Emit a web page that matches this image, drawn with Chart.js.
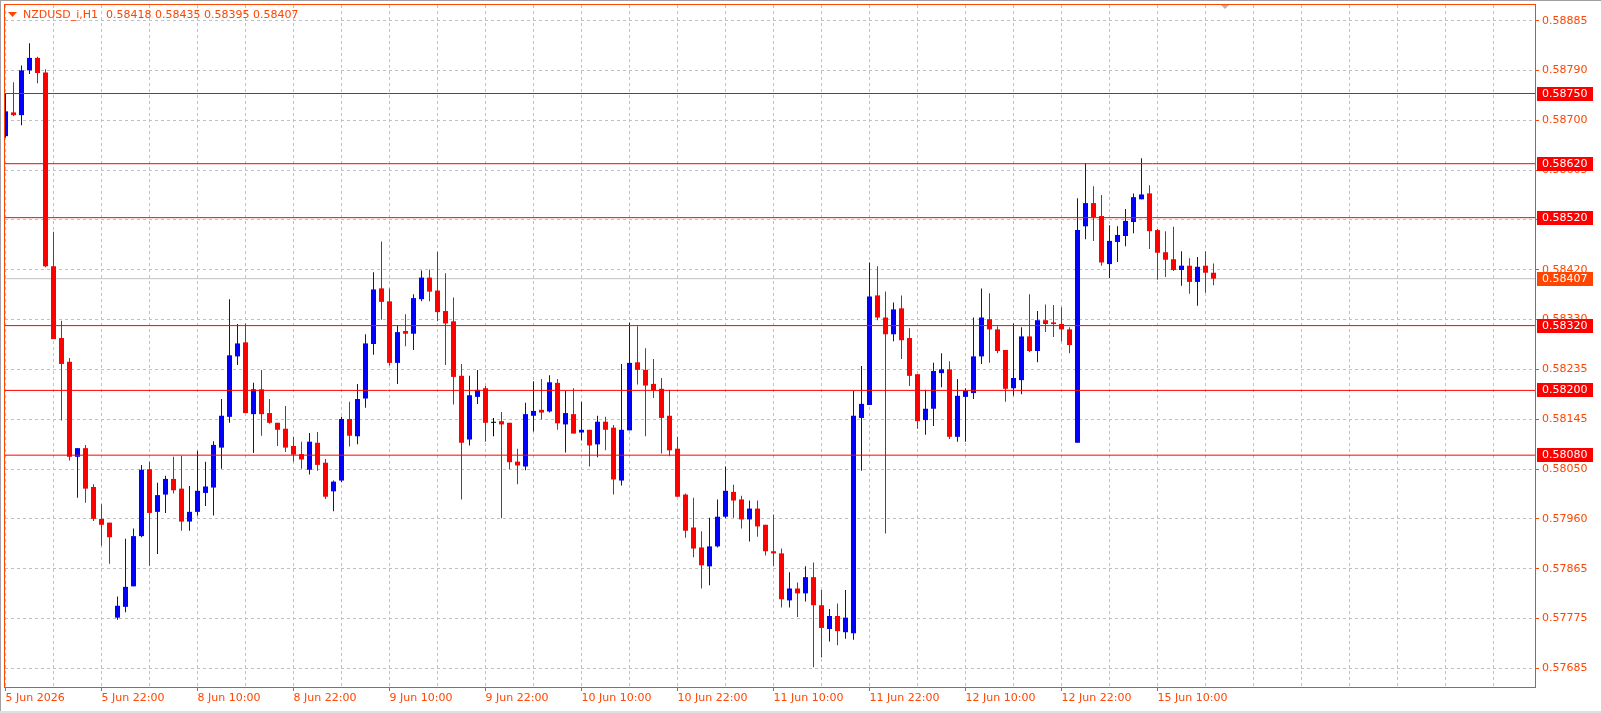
<!DOCTYPE html>
<html>
<head>
<meta charset="utf-8">
<title>NZDUSD_i,H1</title>
<script src="https://cdn.jsdelivr.net/npm/chart.js@4.4.1/dist/chart.umd.min.js"></script>
<style>
  html, body { margin: 0; padding: 0; background: #ffffff; overflow: hidden; }
  canvas { display: block; }
</style>
</head>
<body>
<canvas id="chart" width="1601" height="713"></canvas>
<script>
// NZDUSD hourly candles, 5 Jun 10:00 .. 15 Jun 17:00 (152 bars, weekends skipped)
const symbolTitle = 'NZDUSD_i,H1';
const titleValues = '0.58418 0.58435 0.58395 0.58407';

const opens = [
  0.58671, 0.58715, 0.58710, 0.58793, 0.58816, 0.58789, 0.58430, 0.58297, 0.58253, 0.58077,
  0.58093, 0.58021, 0.57962, 0.57955, 0.57779, 0.57799, 0.57837, 0.57930, 0.58054, 0.57975,
  0.58007, 0.58036, 0.58018, 0.57957, 0.57975, 0.58010, 0.58020, 0.58094, 0.58151, 0.58263,
  0.58289, 0.58156, 0.58202, 0.58158, 0.58140, 0.58129, 0.58097, 0.58082, 0.58053, 0.58103,
  0.58066, 0.58013, 0.58033, 0.58147, 0.58115, 0.58185, 0.58286, 0.58389, 0.58365, 0.58251,
  0.58310, 0.58305, 0.58369, 0.58409, 0.58385, 0.58347, 0.58328, 0.58227, 0.58109, 0.58188,
  0.58204, 0.58140, 0.58143, 0.58140, 0.58068, 0.58059, 0.58153, 0.58164, 0.58161, 0.58214,
  0.58137, 0.58156, 0.58122, 0.58127, 0.58100, 0.58142, 0.58131, 0.58033, 0.58126, 0.58252,
  0.58238, 0.58212, 0.58203, 0.58153, 0.58092, 0.58007, 0.57946, 0.57909, 0.57874, 0.57911,
  0.57966, 0.58012, 0.57998, 0.57961, 0.57981, 0.57951, 0.57902, 0.57898, 0.57811, 0.57833,
  0.57824, 0.57854, 0.57802, 0.57758, 0.57782, 0.57752, 0.57750, 0.58149, 0.58173, 0.58376,
  0.58335, 0.58304, 0.58352, 0.58297, 0.58230, 0.58145, 0.58166, 0.58232, 0.58239, 0.58114,
  0.58188, 0.58195, 0.58263, 0.58332, 0.58313, 0.58275, 0.58204, 0.58219, 0.58300, 0.58273,
  0.58330, 0.58326, 0.58323, 0.58313, 0.58103, 0.58504, 0.58547, 0.58523, 0.58434, 0.58475,
  0.58486, 0.58512, 0.58554, 0.58565, 0.58497, 0.58456, 0.58443, 0.58423, 0.58431, 0.58401,
  0.58431, 0.58418
];
const highs = [
  0.58750, 0.58771, 0.58802, 0.58843, 0.58818, 0.58795, 0.58494, 0.58329, 0.58260, 0.58093,
  0.58099, 0.58026, 0.57989, 0.57955, 0.57818, 0.57925, 0.57944, 0.58062, 0.58068, 0.58029,
  0.58042, 0.58077, 0.58079, 0.58023, 0.58088, 0.58068, 0.58106, 0.58184, 0.58369, 0.58323,
  0.58324, 0.58214, 0.58238, 0.58184, 0.58140, 0.58171, 0.58114, 0.58105, 0.58121, 0.58123,
  0.58073, 0.58033, 0.58151, 0.58179, 0.58212, 0.58304, 0.58419, 0.58476, 0.58389, 0.58321,
  0.58341, 0.58378, 0.58422, 0.58424, 0.58457, 0.58417, 0.58372, 0.58249, 0.58227, 0.58238,
  0.58208, 0.58149, 0.58160, 0.58140, 0.58092, 0.58177, 0.58217, 0.58221, 0.58228, 0.58221,
  0.58199, 0.58204, 0.58179, 0.58127, 0.58153, 0.58151, 0.58136, 0.58249, 0.58326, 0.58319,
  0.58278, 0.58258, 0.58223, 0.58201, 0.58114, 0.58009, 0.58001, 0.57939, 0.57964, 0.57998,
  0.58059, 0.58025, 0.58005, 0.57996, 0.57996, 0.57951, 0.57970, 0.57907, 0.57863, 0.57844,
  0.57874, 0.57881, 0.57830, 0.57795, 0.57805, 0.57830, 0.58199, 0.58245, 0.58437, 0.58430,
  0.58383, 0.58363, 0.58376, 0.58315, 0.58230, 0.58201, 0.58251, 0.58269, 0.58254, 0.58221,
  0.58204, 0.58335, 0.58389, 0.58380, 0.58319, 0.58275, 0.58324, 0.58317, 0.58378, 0.58347,
  0.58359, 0.58358, 0.58354, 0.58317, 0.58556, 0.58621, 0.58578, 0.58562, 0.58506, 0.58504,
  0.58536, 0.58565, 0.58630, 0.58580, 0.58499, 0.58495, 0.58503, 0.58458, 0.58445, 0.58447,
  0.58458, 0.58435
];
const lows = [
  0.58668, 0.58708, 0.58691, 0.58786, 0.58769, 0.58428, 0.58295, 0.58144, 0.58070, 0.58001,
  0.57992, 0.57958, 0.57912, 0.57879, 0.57775, 0.57789, 0.57837, 0.57928, 0.57875, 0.57897,
  0.57973, 0.58009, 0.57940, 0.57940, 0.57968, 0.57986, 0.57968, 0.58055, 0.58140, 0.58247,
  0.58158, 0.58084, 0.58116, 0.58138, 0.58097, 0.58086, 0.58068, 0.58055, 0.58044, 0.58051,
  0.57999, 0.57976, 0.58030, 0.58096, 0.58100, 0.58168, 0.58266, 0.58331, 0.58246, 0.58212,
  0.58282, 0.58275, 0.58365, 0.58365, 0.58328, 0.58247, 0.58174, 0.57998, 0.58098, 0.58175,
  0.58105, 0.58115, 0.57963, 0.58054, 0.58026, 0.58052, 0.58124, 0.58146, 0.58159, 0.58127,
  0.58085, 0.58120, 0.58107, 0.58059, 0.58076, 0.58089, 0.58007, 0.58024, 0.58126, 0.58211,
  0.58115, 0.58186, 0.58083, 0.58078, 0.58003, 0.57927, 0.57891, 0.57833, 0.57839, 0.57909,
  0.57963, 0.57964, 0.57944, 0.57920, 0.57929, 0.57894, 0.57874, 0.57798, 0.57798, 0.57780,
  0.57809, 0.57687, 0.57705, 0.57735, 0.57728, 0.57740, 0.57738, 0.58051, 0.58173, 0.58330,
  0.57935, 0.58291, 0.58258, 0.58208, 0.58129, 0.58118, 0.58134, 0.58206, 0.58110, 0.58105,
  0.58105, 0.58184, 0.58249, 0.58251, 0.58269, 0.58179, 0.58190, 0.58193, 0.58271, 0.58252,
  0.58308, 0.58299, 0.58291, 0.58269, 0.58103, 0.58480, 0.58477, 0.58431, 0.58408, 0.58438,
  0.58467, 0.58491, 0.58554, 0.58462, 0.58405, 0.58410, 0.58421, 0.58394, 0.58379, 0.58357,
  0.58381, 0.58395
];
const closes = [
  0.58717, 0.58710, 0.58793, 0.58816, 0.58788, 0.58430, 0.58295, 0.58249, 0.58077, 0.58093,
  0.58018, 0.57962, 0.57951, 0.57928, 0.57801, 0.57836, 0.57930, 0.58053, 0.57973, 0.58006,
  0.58036, 0.58015, 0.57957, 0.57975, 0.58014, 0.58022, 0.58099, 0.58153, 0.58265, 0.58287,
  0.58158, 0.58202, 0.58156, 0.58140, 0.58127, 0.58094, 0.58081, 0.58072, 0.58105, 0.58062,
  0.58003, 0.58031, 0.58147, 0.58116, 0.58184, 0.58287, 0.58387, 0.58364, 0.58251, 0.58308,
  0.58305, 0.58371, 0.58409, 0.58383, 0.58345, 0.58324, 0.58225, 0.58103, 0.58191, 0.58201,
  0.58140, 0.58140, 0.58137, 0.58067, 0.58061, 0.58156, 0.58162, 0.58159, 0.58215, 0.58139,
  0.58158, 0.58120, 0.58127, 0.58098, 0.58142, 0.58127, 0.58035, 0.58127, 0.58251, 0.58238,
  0.58209, 0.58200, 0.58149, 0.58089, 0.58003, 0.57940, 0.57907, 0.57876, 0.57911, 0.57966,
  0.58014, 0.57996, 0.57961, 0.57981, 0.57948, 0.57902, 0.57898, 0.57813, 0.57833, 0.57824,
  0.57854, 0.57802, 0.57760, 0.57782, 0.57754, 0.57779, 0.58153, 0.58175, 0.58374, 0.58335,
  0.58304, 0.58350, 0.58293, 0.58227, 0.58143, 0.58166, 0.58236, 0.58239, 0.58114, 0.58190,
  0.58199, 0.58263, 0.58335, 0.58313, 0.58273, 0.58203, 0.58223, 0.58300, 0.58273, 0.58330,
  0.58323, 0.58323, 0.58313, 0.58284, 0.58497, 0.58547, 0.58521, 0.58437, 0.58477, 0.58488,
  0.58514, 0.58558, 0.58563, 0.58495, 0.58455, 0.58442, 0.58423, 0.58431, 0.58401, 0.58429,
  0.58418, 0.58407
];

// time axis: a label every 12 bars, grid every 6 bars
const timeLabels = ['5 Jun 2026', '5 Jun 22:00', '8 Jun 10:00', '8 Jun 22:00', '9 Jun 10:00',
  '9 Jun 22:00', '10 Jun 10:00', '10 Jun 22:00', '11 Jun 10:00', '11 Jun 22:00',
  '12 Jun 10:00', '12 Jun 22:00', '15 Jun 10:00'];
const labelStep = 12;
const gridStep = 6;

// price axis grid levels and the text MT4 prints at them
const priceGrid = [0.58885, 0.587927, 0.587004, 0.586081, 0.585158, 0.584235, 0.583312,
  0.582388, 0.581465, 0.580542, 0.579619, 0.578696, 0.577773, 0.57685];
const priceLabels = ['0.58885', '0.58790', '0.58700', '0.58605', '0.58515', '0.58420', '0.58330',
  '0.58235', '0.58145', '0.58050', '0.57960', '0.57865', '0.57775', '0.57685'];

// horizontal levels drawn on the chart + current bid
const levelPrices = [0.58750, 0.58620, 0.58520, 0.58320, 0.58200, 0.58080];
const bidPrice = 0.58407;

// visible window
const xMin = -0.0625, xMax = 191.1875;
const yMin = 0.576505, yMax = 0.58914;

const FG = '#ff4500';
const FONT = "'DejaVu Sans', sans-serif";

function candleColor(i) {
  if (closes[i] > opens[i]) return '#0000ff';
  if (closes[i] < opens[i]) return '#ff0000';
  return '#000000';
}

function fmt(p) { return p.toFixed(5); }

// frame, title, level price boxes
const chartDecor = {
  id: 'chartDecor',
  afterDraw(chart) {
    const ctx = chart.ctx;
    const a = chart.chartArea;
    const ys = chart.scales.y;
    ctx.save();

    // window edges
    ctx.fillStyle = '#a0a0a0';
    ctx.fillRect(0, 0, 1, chart.height);
    ctx.fillRect(0, 0, chart.width, 1);
    ctx.fillStyle = '#e0e0e0';
    ctx.fillRect(0, chart.height - 2, chart.width, 2);

    // plot frame
    ctx.strokeStyle = FG;
    ctx.lineWidth = 1;
    ctx.strokeRect(a.left - 0.5, a.top - 0.5, a.right - a.left + 1, a.bottom - a.top + 1);

    // chart shift marker
    ctx.fillStyle = '#b4b4b4';
    ctx.beginPath();
    ctx.moveTo(1221, 5); ctx.lineTo(1229, 5); ctx.lineTo(1225, 9);
    ctx.closePath(); ctx.fill();

    // title
    ctx.fillStyle = FG;
    ctx.beginPath();
    ctx.moveTo(8, 12); ctx.lineTo(17, 12); ctx.lineTo(12.5, 17);
    ctx.closePath(); ctx.fill();
    ctx.font = '11px ' + FONT;
    ctx.textBaseline = 'middle';
    ctx.textAlign = 'left';
    ctx.fillText(symbolTitle, 23, 15);
    ctx.fillText(titleValues, 106, 15);

    // price boxes on the right axis
    const boxes = levelPrices.map(p => ({ p, c: '#ff0000' }));
    boxes.push({ p: bidPrice, c: '#ff4500' });
    boxes.forEach(b => {
      const py = Math.round(ys.getPixelForValue(b.p));
      ctx.fillStyle = b.c;
      ctx.fillRect(a.right + 2, py - 7, 56, 14);
      ctx.fillStyle = '#ffffff';
      ctx.fillText(fmt(b.p), a.right + 7, py + 0.5);
    });
    ctx.restore();
  }
};

const levelSets = levelPrices.map(p => ({
  type: 'line',
  data: [{ x: xMin, y: p }, { x: xMax, y: p }],
  borderColor: '#ff0000',
  borderWidth: 1,
  pointRadius: 0,
  fill: false,
  clip: 0,
  order: 0
}));

const ctx = document.getElementById('chart').getContext('2d');
new Chart(ctx, {
  type: 'bar',
  data: {
    datasets: [
      ...levelSets,
      {
        // candle bodies
        type: 'bar',
        data: opens.map((o, i) => ({ x: i, y: [o, closes[i]] })),
        backgroundColor: c => candleColor(c.dataIndex),
        borderWidth: 0,
        barThickness: 5,
        maxBarThickness: 5,
        minBarLength: 1,
        inflateAmount: 0,
        grouped: false,
        clip: 0,
        order: 1
      },
      {
        // wicks
        type: 'bar',
        data: lows.map((l, i) => ({ x: i, y: [l, highs[i]] })),
        backgroundColor: c => candleColor(c.dataIndex),
        borderWidth: 0,
        barThickness: 1,
        maxBarThickness: 1,
        inflateAmount: 0,
        grouped: false,
        clip: 0,
        order: 2
      },
      {
        type: 'line',
        data: [{ x: xMin, y: bidPrice }, { x: xMax, y: bidPrice }],
        borderColor: '#c0c0c0',
        borderWidth: 1,
        pointRadius: 0,
        fill: false,
        clip: 0,
        order: 3
      }
    ]
  },
  options: {
    responsive: false,
    animation: false,
    events: [],
    devicePixelRatio: 1,
    layout: { padding: { left: 5, top: 5, right: 0, bottom: 0 } },
    plugins: {
      legend: { display: false },
      tooltip: { enabled: false },
      title: { display: false }
    },
    scales: {
      x: {
        type: 'linear',
        min: xMin,
        max: xMax,
        bounds: 'data',
        offset: false,
        afterFit: s => { s.height = 26; s.paddingLeft = 0; s.paddingRight = 0; },
        afterBuildTicks: s => {
          const t = [];
          for (let v = 0; v <= xMax; v += gridStep) t.push({ value: v });
          s.ticks = t;
        },
        grid: {
          offset: false,
          color: '#c0c0c0',
          lineWidth: 1,
          drawTicks: true,
          tickLength: 4,
          tickColor: c => (c.tick && c.tick.value % labelStep === 0 && c.tick.value / labelStep < timeLabels.length) ? FG : 'rgba(0,0,0,0)'
        },
        border: { display: false, dash: [3, 3] },
        ticks: {
          autoSkip: false,
          maxRotation: 0,
          minRotation: 0,
          align: 'start',
          padding: 1,
          color: FG,
          font: { family: FONT, size: 11 },
          callback: v => (v % labelStep === 0 && timeLabels[v / labelStep]) ? timeLabels[v / labelStep] : ''
        }
      },
      y: {
        type: 'linear',
        position: 'right',
        min: yMin,
        max: yMax,
        bounds: 'data',
        beginAtZero: false,
        afterFit: s => { s.width = 66; s.paddingTop = 0; s.paddingBottom = 0; },
        afterBuildTicks: s => { s.ticks = priceGrid.map(v => ({ value: v })); },
        grid: {
          color: '#c0c0c0',
          lineWidth: 1,
          drawTicks: true,
          tickLength: 4,
          tickColor: FG
        },
        border: { display: false, dash: [3, 3] },
        ticks: {
          autoSkip: false,
          padding: 3,
          color: FG,
          font: { family: FONT, size: 11 },
          callback: (v, i) => priceLabels[i]
        }
      }
    }
  },
  plugins: [chartDecor]
});
</script>
</body>
</html>
